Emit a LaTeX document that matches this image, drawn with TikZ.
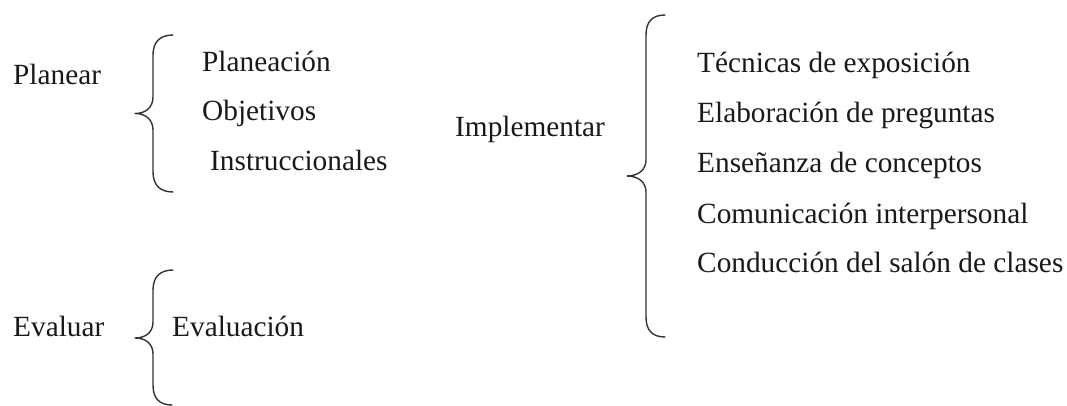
\documentclass[tikz,border=0pt]{standalone}
\usepackage{fontspec}
\setmainfont{Liberation Serif}
\begin{document}
\begin{tikzpicture}[x=1pt,y=-1pt,
  lbl/.style={anchor=base west,inner sep=0pt,font=\fontsize{29.3}{35}\selectfont,text=black!90},
  brace/.style={draw=black!80,line width=1.4pt,line cap=round,line join=round}]
\useasboundingbox (0,0) rectangle (1067,406);
% left labels
\node[lbl] (planear) at (13,85) {Planear};
\node[lbl] (evaluar) at (13,336) {Evaluar};
\node[lbl] (implementar) at (455,137) {Implementar};
% items
\node[lbl] (planeacion) at (202,72) {Planeación};
\node[lbl] (objetivos) at (202,121) {Objetivos};
\node[lbl] (instruc) at (210,171) {Instruccionales};
\node[lbl] (evaluacion) at (172,336) {Evaluación};
\node[lbl] (tecnicas) at (697,73) {Técnicas de exposición};
\node[lbl] (elaboracion) at (697,123) {Elaboración de preguntas};
\node[lbl] (ensenanza) at (697,173) {Enseñanza de conceptos};
\node[lbl] (comunicacion) at (697,223) {Comunicación interpersonal};
\node[lbl] (conduccion) at (697,272) {Conducción del salón de clases};
% braces
\coordinate (b1t) at (173,35);
\coordinate (b1m) at (135,113.5);
\coordinate (b1b) at (173,192);
\draw[brace] (b1t) .. controls (160,35) and (153,42) .. (153,55) -- (153,97)
  .. controls (153,107) and (146,113.5) .. (b1m)
  .. controls (146,113.5) and (153,120) .. (153,130) -- (153,172)
  .. controls (153,185) and (160,192) .. (b1b);
\coordinate (b2t) at (173,270);
\coordinate (b2m) at (135,338);
\coordinate (b2b) at (172,405);
\draw[brace] (b2t) .. controls (160,270) and (153,277) .. (153,290) -- (153,322)
  .. controls (153,332) and (146,338) .. (b2m)
  .. controls (146,338) and (153,344) .. (153,354) -- (153,385)
  .. controls (153,398) and (159,405) .. (b2b);
\coordinate (b3t) at (665,15);
\coordinate (b3m) at (627,176);
\coordinate (b3b) at (665,337);
\draw[brace] (b3t) .. controls (652,15) and (646,22) .. (646,35) -- (646,160)
  .. controls (646,170) and (638,176) .. (b3m)
  .. controls (638,176) and (646,182) .. (646,192) -- (646,317)
  .. controls (646,330) and (652,337) .. (b3b);
\end{tikzpicture}
\end{document}
